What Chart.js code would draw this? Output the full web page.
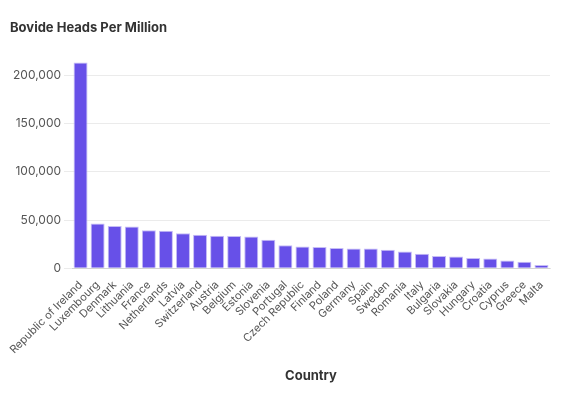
<!DOCTYPE html>
<html>
<head>
<script src="https://cdn.jsdelivr.net/npm/chart.js@4"></script>
<style>body{margin:0;background:#fff}#wrap{width:572px;height:400px}</style>
</head>
<body>
<div id="wrap"><canvas id="myChart"></canvas></div>
<script>
let countries = ['Republic of Ireland','Luxembourg','Denmark','Lithuania','France','Netherlands','Latvia','Switzerland','Austria','Belgium','Estonia','Slovenia','Portugal','Czech Republic','Finland','Poland','Germany','Spain','Sweden','Romania','Italy','Bulgaria','Slovakia','Hungary','Croatia','Cyprus','Greece','Malta'];
let heads = [213000,46400,43900,43300,39500,38800,36400,34700,33600,33400,33000,29500,24000,22700,22000,21000,20600,20500,19200,17500,15100,12700,12300,10600,10300,8200,6900,3400];
let yTicks = [0, 50000, 100000, 150000, 200000];

let ctx = document.getElementById('myChart').getContext('2d');
new Chart(ctx, {
  type: 'bar',
  data: {
    labels: countries,
    datasets: [{
      data: heads,
      backgroundColor: '#6750e8',
      borderColor: '#c5bcf6',
      borderWidth: 1,
      barPercentage: 0.82,
      categoryPercentage: 1
    }]
  },
  options: {
    responsive: true,
    maintainAspectRatio: false,
    animation: false,
    layout: { padding: { left: 10, right: 22, top: 6, bottom: 12 } },
    plugins: {
      legend: { display: false },
      title: {
        display: true, text: 'Bovide Heads Per Million', align: 'start',
        color: '#333', font: { family: 'Inter', size: 13, weight: 'bold' },
        padding: { top: 14, bottom: 22 }
      }
    },
    scales: {
      x: {
        grid: { display: false },
        ticks: { color: '#555', font: { family: 'Inter', size: 11 }, maxRotation: 45, minRotation: 45, autoSkip: false, padding: 2 },
        title: { display: true, text: 'Country', color: '#333', font: { family: 'Inter', size: 13, weight: 'bold' }, padding: { top: 10 } }
      },
      y: {
        min: 0, max: 218000,
        border: { display: false },
        grid: { color: '#ebebeb' },
        afterBuildTicks: axis => { axis.ticks = yTicks.map(v => ({ value: v })); },
        ticks: { color: '#555', font: { family: 'Inter', size: 12 }, callback: v => v.toLocaleString('en-US') }
      }
    }
  }
});
</script>
</body>
</html>
